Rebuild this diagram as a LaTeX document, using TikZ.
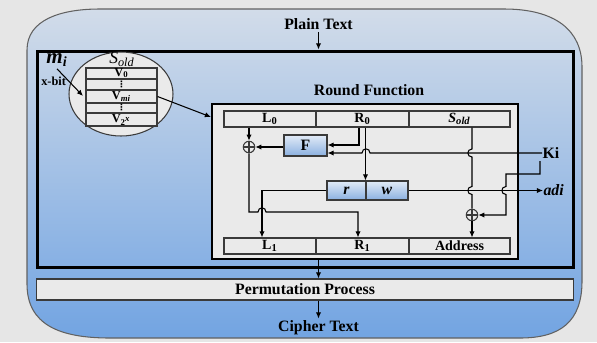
\documentclass[tikz,border=0pt]{standalone}
\usepackage{fontspec}
\setmainfont{Liberation Serif}
\newfontfamily\dotsfont{DejaVu Sans}
\usetikzlibrary{arrows.meta,shapes.geometric}

\definecolor{bggrey}{HTML}{E6E6E6}
\definecolor{paneltop}{HTML}{D2DCE9}
\definecolor{panelbot}{HTML}{72A4E2}
\definecolor{boxfill}{HTML}{EAEAEA}
\definecolor{linegrey}{HTML}{3A3A3A}
\definecolor{fnlight}{HTML}{E2EBF7}
\definecolor{fnblue}{HTML}{8AB0E0}

\begin{document}
\begin{tikzpicture}[x=0.02cm, y=-0.02cm, line width=0.6pt,
    >={Latex[length=3.5pt,width=3pt]},
    every node/.style={inner sep=1pt},
    reg/.style={draw=linegrey, fill=boxfill, minimum height=0.32cm, inner sep=0pt, font=\footnotesize\bfseries},
    cell/.style={draw=linegrey, fill=boxfill, minimum width=1.42cm, inner sep=0pt, text height=4pt, text depth=1pt, font=\scriptsize\bfseries},
    unit/.style={draw=linegrey, top color=fnlight, bottom color=fnblue, inner sep=0pt, font=\small\bfseries},
    xor/.style={circle, draw=linegrey, minimum size=0.23cm, inner sep=0pt,
      path picture={\draw[linegrey] (path picture bounding box.north) -- (path picture bounding box.south)
        (path picture bounding box.west) -- (path picture bounding box.east);}}]

    \useasboundingbox (0,0) rectangle (597,342);
    \fill[bggrey] (0,0) rectangle (597,342);

    % Outer panel
    \draw[draw=linegrey!80, top color=paneltop, bottom color=panelbot]
        (27,50) .. controls (27,20) and (60,9) .. (100,9) -- (504,9)
        .. controls (555,9) and (582,30) .. (582,67) -- (582,281)
        .. controls (582,322) and (560,338) .. (520,338) -- (110,338)
        .. controls (60,338) and (27,325) .. (27,284) -- cycle;

    % Frames
    \node[draw, line width=1.7pt, minimum width=10.74cm, minimum height=4.34cm] (core) at (305.5,159.5) {};
    \node[draw=linegrey, fill=boxfill, minimum width=10.76cm, minimum height=0.42cm, font=\small\bfseries] (perm) at (305,289.5) {Permutation Process};
    \node[font=\small\bfseries] (plain) at (318.5,24) {Plain Text};
    \node[font=\small\bfseries] (cipher) at (318.5,328) {Cipher Text};
    \node[font=\small\bfseries] (rlabel) at (369,90) {Round Function};
    \node[draw, line width=1.4pt, fill=boxfill, minimum width=6.12cm, minimum height=3.1cm] (rbox) at (365,181.5) {};

    % Registers
    \node[reg, minimum width=1.84cm] (L0) at (270,119) {L\textsubscript{0}};
    \node[reg, minimum width=1.86cm] (R0) at (362.5,119) {R\textsubscript{0}};
    \node[reg, minimum width=2.02cm] (Sold) at (459.5,119) {\textit{S\textsubscript{old}}};
    \node[reg, minimum width=1.84cm] (L1) at (270,246) {L\textsubscript{1}};
    \node[reg, minimum width=1.86cm] (R1) at (362.5,246) {R\textsubscript{1}};
    \node[reg, minimum width=2.02cm] (Addr) at (459.5,246) {Address};

    % Function blocks
    \node[unit, minimum width=0.86cm, minimum height=0.42cm] (F) at (305.5,145.5) {F};
    \node[unit, minimum width=0.78cm, minimum height=0.38cm] (r) at (346.5,190.5) {\textit{r}};
    \node[unit, minimum width=0.84cm, minimum height=0.38cm] (w) at (387,190.5) {\textit{w}};
    \node[xor] (x1) at (249,147) {};
    \node[xor] (x2) at (472,215) {};

    \node[font=\small\bfseries, anchor=west, inner sep=0pt] (Ki) at (542,153) {Ki};
    \node[font=\small\bfseries\itshape, anchor=west, inner sep=0pt] (adi) at (543,190.5) {adi};

    % S-box
    \node[font=\scriptsize\bfseries, anchor=west] (xbit) at (39,81) {x-bit};
    \node[ellipse, draw=linegrey, fill=boxfill, minimum width=2.08cm, minimum height=1.68cm] (sbox) at (121,94) {};
    \node[cell, minimum height=0.22cm] (v0) at (121.5,73.5) {V\textsubscript{0}};
    \node[cell, minimum height=0.22cm] (d1) at (121.5,84.5) {\dotsfont\tiny ⋮};
    \node[cell, minimum height=0.26cm] (vmi) at (121.5,96.5) {V\textsubscript{\textit{mi}}};
    \node[cell, minimum height=0.2cm] (d2) at (121.5,108) {\dotsfont\tiny ⋮};
    \node[cell, minimum height=0.26cm] (v2x) at (121.5,119.5) {V\textsubscript{2\textsuperscript{\textit{x}}}};
    \node[font=\normalsize\itshape, inner sep=0pt, anchor=south] (stitle) at (122,67) {S\textsubscript{old}};
    \node[font=\large\bfseries\itshape] (mi) at (57,60) {m\textsubscript{i}};

    \coordinate (mtip) at (83,96);
    \coordinate (rfin) at (211,117);
    \draw[->] (mi.south) -- (mtip);
    \draw[->] (vmi.east) -- (rfin);

    % Main flow
    \draw[->] (plain.south) -- (plain |- core.north);
    \draw[->] (plain |- rbox.south) -- (plain |- perm.north);
    \draw[->] (plain |- perm.south) -- (cipher.north);

    % Round function wiring
    \draw[->] (x1 |- L0.south) -- (x1.north);
    \draw[->] (F.west |- x1.east) -- (x1.east);
    \coordinate (rf) at (359,145);
    \draw[->] (rf |- R0.south) -- (rf) -- (F.east |- rf);
    \draw[->] (w.north west |- R0.south) -- (w.north west);
    % Ki into F, jumping the R0 wire
    \draw[->] (Ki.west) -- (370,153) .. controls (370,147.5) and (362,147.5) .. (362,153) -- (F.east |- Ki.west);
    % S_old down to the second xor
    \draw (x2 |- Sold.south) -- (472,149) .. controls (466.5,149) and (466.5,157) .. (472,157)
        -- (472,186.5) .. controls (466.5,186.5) and (466.5,194.5) .. (472,194.5) -- (x2.north);
    \draw[->] (x2.south) -- (x2 |- Addr.north);
    \draw[->] (w.east) -- (adi.west);
    % Ki branch
    \coordinate (kb) at (540,161);
    \draw[->] (kb) -- (540,174) -- (506,174) -- (506,186.5) .. controls (500.5,186.5) and (500.5,194.5) .. (506,194.5)
        -- (506,215) -- (x2.east);
    % outputs
    \coordinate (rl) at (262,190.5);
    \draw[->] (r.west) -- (rl) -- (rl |- L1.north);
    \coordinate (xr) at (358,212);
    \draw[->] (x1.south) -- (x1 |- xr) -- (258,212) .. controls (258,206.5) and (266,206.5) .. (266,212)
        -- (xr) -- (xr |- R1.north);
\end{tikzpicture}
\end{document}
